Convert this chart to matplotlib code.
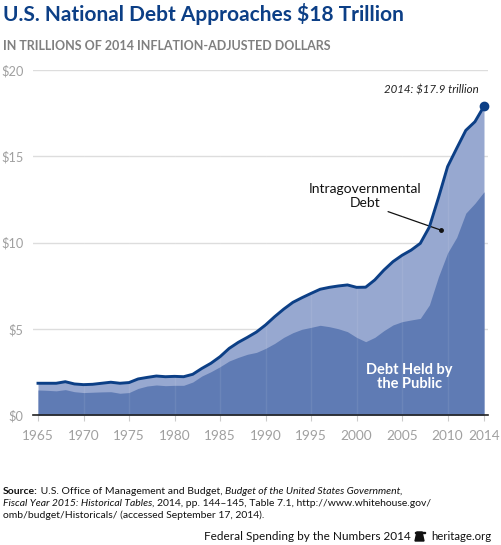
import matplotlib.pyplot as plt
import matplotlib.patches as mpatches
import numpy as np

plt.rcParams['font.family'] = ['Lato', 'DejaVu Sans']

# Debt in trillions of 2014 dollars
years = np.arange(1965, 2015)
total = [1.84, 1.84, 1.84, 1.93, 1.80, 1.76, 1.78, 1.84, 1.90, 1.84,
         1.88, 2.09, 2.18, 2.26, 2.22, 2.24, 2.22, 2.36, 2.70, 3.00,
         3.38, 3.86, 4.21, 4.50, 4.81, 5.22, 5.70, 6.14, 6.53, 6.80,
         7.05, 7.29, 7.40, 7.48, 7.54, 7.40, 7.41, 7.83, 8.40, 8.89,
         9.26, 9.56, 9.95, 10.9, 12.6, 14.4, 15.46, 16.5, 17.0, 17.9]
public = [1.45, 1.43, 1.40, 1.47, 1.35, 1.30, 1.32, 1.34, 1.35, 1.26,
          1.30, 1.54, 1.68, 1.74, 1.70, 1.72, 1.72, 1.91, 2.26, 2.51,
          2.80, 3.13, 3.34, 3.52, 3.63, 3.86, 4.15, 4.50, 4.77, 4.97,
          5.08, 5.20, 5.12, 5.00, 4.83, 4.50, 4.25, 4.50, 4.89, 5.22,
          5.41, 5.51, 5.60, 6.38, 8.02, 9.40, 10.30, 11.70, 12.27, 12.94]
xticks = [1965, 1970, 1975, 1980, 1985, 1990, 1995, 2000, 2005, 2010, 2014]
yticks = [0, 5, 10, 15, 20]

W, H = 501, 545
fig = plt.figure(figsize=(W / 100, H / 100), dpi=100)
ax = fig.add_axes([33 / W, 1 - 415 / H, 455 / W, 345 / H])

dark = '#5f7bb4'
light = '#97a8d0'
navy = '#0c3f86'
gray = '#a0a0a0'

ax.fill_between(years, 0, total, color=light, lw=0, zorder=2)
ax.fill_between(years, 0, public, color=dark, lw=0, zorder=3)
for x in xticks[1:-1]:
    ax.axvline(x, color='white', alpha=0.08, lw=1, zorder=4)
ax.plot(years, total, color=navy, lw=2.1, zorder=5, solid_joinstyle='round')
ax.plot([2014], [17.9], 'o', color=navy, ms=6, zorder=6, clip_on=False)

ppy = (484 - 38) / 49.0
ax.set_xlim(1965 - 5 / ppy, 2014 + 4 / ppy)
ax.set_ylim(0, 20)
ax.set_xticks(xticks)
ax.set_yticks(yticks)
ax.set_yticklabels(['$%d' % v for v in yticks])
ax.tick_params(axis='y', length=0, pad=7, labelsize=9.2, labelcolor=gray)
ax.tick_params(axis='x', length=4, color='#cccccc', pad=7, labelsize=9.8,
               labelcolor=gray)
ax.grid(axis='y', color='#dddddd', lw=1)
ax.set_axisbelow(True)
for s in ['top', 'right', 'left']:
    ax.spines[s].set_visible(False)
ax.spines['bottom'].set_color('#222222')
ax.spines['bottom'].set_linewidth(1.2)
ax.spines['bottom'].set_zorder(7)

ax.text(2013.4, 18.55, '2014: $17.9 trillion', ha='right', va='bottom',
        fontsize=8.3, style='italic', color='#222222')
ax.text(2000.9, 12.7, 'Intragovernmental\nDebt', ha='center', va='center',
        fontsize=10, color='#111111', linespacing=1.15)
ax.annotate('', xy=(2009.25, 10.72), xytext=(2003.46, 11.79),
            arrowprops=dict(arrowstyle='-', color='#111111', lw=0.9,
                            shrinkA=0, shrinkB=0))
ax.plot([2009.25], [10.72], 'o', color='#111111', ms=2.5, zorder=8)
ax.text(2005.8, 2.2, 'Debt Held by\nthe Public', ha='center', va='center',
        fontsize=10.5, fontweight='bold', color='white', linespacing=1.05,
        zorder=8)

fig.text(3 / W, 1 - 14 / H, 'U.S. National Debt Approaches $18 Trillion',
         ha='left', va='center', fontsize=15, fontweight='bold', color=navy)
fig.text(3 / W, 1 - 46 / H, 'IN TRILLIONS OF 2014 INFLATION-ADJUSTED DOLLARS',
         ha='left', va='center', fontsize=9.0, fontweight='bold', color='#7f7f7f')


def run_text(x, y, parts, size=7.45):
    # draw a line made of (text, weight, style) pieces
    r = fig.canvas.get_renderer()
    for s, w, st in parts:
        t = fig.text(x / W, 1 - y / H, s, ha='left', va='center', fontsize=size,
                     fontweight=w, style=st, color='#111111')
        x += t.get_window_extent(r).width


run_text(3, 492, [('Source:', 'bold', 'normal'),
                  (' U.S. Office of Management and Budget, ', 'normal', 'normal'),
                  ('Budget of the United States Government,', 'normal', 'italic')])
run_text(3, 503.5, [('Fiscal Year 2015: Historical Tables', 'normal', 'italic'),
                    (', 2014, pp. 144\u2013145, Table 7.1, http://www.whitehouse.gov/',
                     'normal', 'normal')])
run_text(3, 515, [('omb/budget/Historicals/ (accessed September 17, 2014).',
                   'normal', 'normal')])

fig.text(491 / W, 1 - 537 / H, 'heritage.org', ha='right', va='center',
         fontsize=8.2, color='#111111')
fig.text(411 / W, 1 - 537 / H, 'Federal Spending by the Numbers 2014',
         ha='right', va='center', fontsize=8.5, color='#111111')
# small bell icon
bell = mpatches.Polygon([(415 / W, 1 - 541 / H), (424 / W, 1 - 541 / H),
                         (422 / W, 1 - 532 / H), (417 / W, 1 - 532 / H)],
                        closed=True, color='#111111', transform=fig.transFigure)
fig.patches.append(bell)
fig.patches.append(mpatches.Rectangle((414.5 / W, 1 - 533 / H), 10 / W, 1.5 / H,
                                      color='#111111', transform=fig.transFigure))

fig.savefig('out.png', dpi=100)
